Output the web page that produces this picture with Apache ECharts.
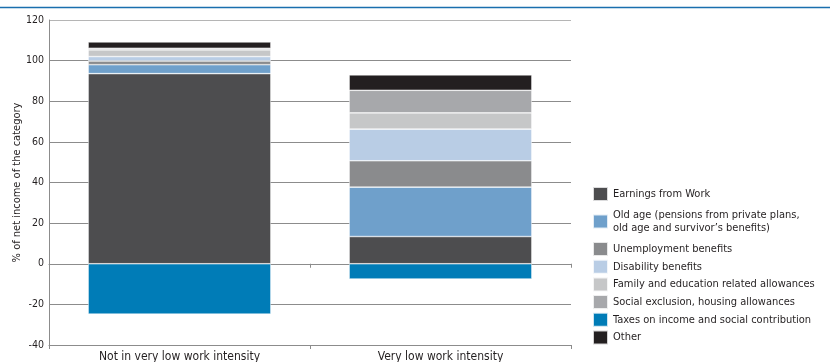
<!DOCTYPE html>
<html>
<head>
<meta charset="utf-8">
<script src="https://cdn.jsdelivr.net/npm/echarts@6/dist/echarts.min.js"></script>
<style>html,body{margin:0;padding:0;background:#fff}#c{width:830px;height:362px}</style>
</head>
<body>
<div id="c"></div>
<script>
var categories = ['Not in very low work intensity', 'Very low work intensity'];
var seriesNames = ['Earnings from Work', 'Old age (pensions from private plans,\nold age and survivor\u2019s benefits)', 'Unemployment benefits', 'Disability benefits', 'Family and education related allowances', 'Social exclusion, housing allowances', 'Taxes on income and social contribution', 'Other'];
var earnings = [93.6, 13.4];
var oldAge = [4.4, 24.3];
var unemployment = [1.8, 13.0];
var disability = [2.2, 15.6];
var family = [3.3, 8.0];
var social = [0.8, 11.1];
var taxes = [-24.8, -7.5];
var other = [3.1, 7.6];
var yTicks = [-40, -20, 0, 20, 40, 60, 80, 100, 120];

var colors = ['#4d4d4f', '#6fa0cb', '#8a8b8d', '#b9cde5', '#c6c7c8', '#a7a8ab', '#007cb7', '#231f20'];
var values = [earnings, oldAge, unemployment, disability, family, social, taxes, other];
var FONT = '"DejaVu Sans Condensed", "Liberation Sans Narrow", sans-serif';

var chart = echarts.init(document.getElementById('c'), null, {renderer: 'canvas'});
var series = seriesNames.map(function (n, i) {
  return {
    name: n, type: 'bar', stack: 'total', data: values[i], barWidth: '70%',
    itemStyle: {color: colors[i], borderColor: 'rgba(255,255,255,0.8)', borderWidth: 0.6},
    xAxisIndex: 0
  };
});
var legendData = seriesNames.map(function (n, i) {
  return i === 1 ? {name: n, textStyle: {padding: [3, 0, 8, 0]}} : {name: n};
});
chart.setOption({
  animation: false,
  textStyle: {fontFamily: FONT},
  grid: {left: 49, right: 259, top: 20, bottom: 17, outerBoundsMode: 'none', containLabel: false},
  graphic: [{type: 'line', shape: {x1: 0, y1: 7.5, x2: 830, y2: 7.5}, style: {stroke: '#1a6fae', lineWidth: 1.5}}],
  legend: {
    orient: 'vertical', left: 592, top: 186, padding: 0, itemWidth: 15, itemHeight: 14, itemGap: 1.7,
    icon: 'rect', selectedMode: false,
    data: legendData,
    textStyle: {fontFamily: FONT, fontSize: 11, color: '#231f20', lineHeight: 12.3}
  },
  xAxis: [{
    type: 'category', data: categories, position: 'bottom',
    axisLine: {onZero: false, lineStyle: {color: '#8c8c8c', width: 1}},
    axisTick: {show: true, length: 4, lineStyle: {color: '#8c8c8c'}},
    axisLabel: {fontFamily: FONT, fontSize: 12, color: '#231f20', margin: 6}
  }, {
    type: 'category', data: categories, position: 'bottom',
    axisLine: {onZero: true, lineStyle: {color: '#8c8c8c', width: 1}},
    axisTick: {show: true, length: 4, lineStyle: {color: '#8c8c8c'}},
    axisLabel: {show: false}
  }],
  yAxis: {
    type: 'value', min: -40, max: 120, interval: 20,
    name: '% of net income of the category', nameLocation: 'middle', nameRotate: 90, nameGap: 26,
    nameMoveOverlap: false,
    nameTextStyle: {fontFamily: FONT, fontSize: 11, color: '#231f20'},
    axisLine: {show: true, lineStyle: {color: '#8c8c8c'}},
    axisTick: {show: false},
    axisLabel: {fontFamily: FONT, fontSize: 10.5, color: '#231f20', margin: 5,
      formatter: function (v) { return yTicks.indexOf(v) >= 0 ? String(v) : ''; }},
    splitLine: {show: true, lineStyle: {color: ['#8c8c8c', '#8c8c8c', '#8c8c8c', '#8c8c8c', '#8c8c8c', '#8c8c8c', '#8c8c8c', '#8c8c8c', '#b5b5b5'], width: 1}}
  },
  series: series.concat([{type: 'bar', xAxisIndex: 1, data: [], silent: true}])
});
</script>
</body>
</html>
